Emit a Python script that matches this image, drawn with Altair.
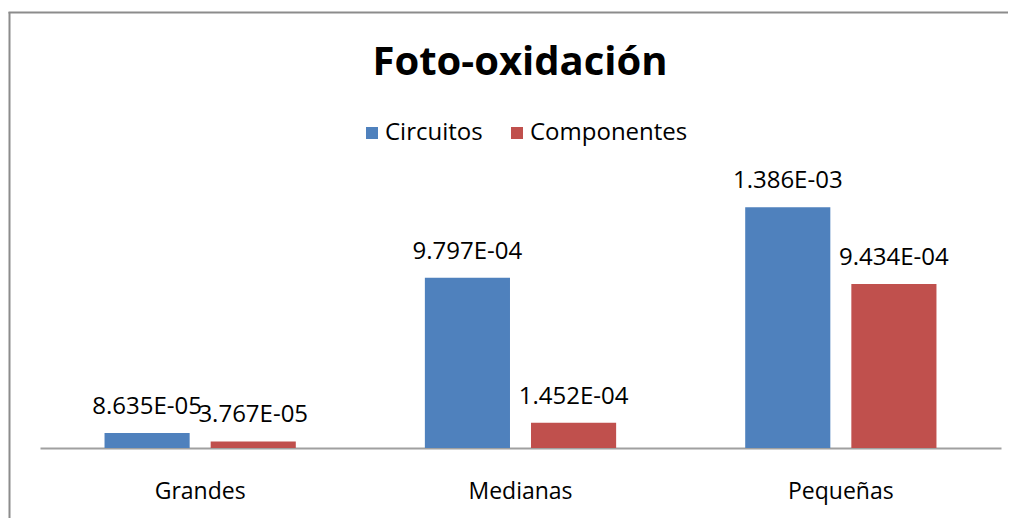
import altair as alt
import pandas as pd

categories = ["Grandes", "Medianas", "Pequeñas"]
series = ["Circuitos", "Componentes"]
circuitos = [8.635e-05, 9.797e-04, 1.386e-03]
componentes = [3.767e-05, 1.452e-04, 9.434e-04]
colors = ["#4F81BD", "#C0504D"]

rows = []
for i, c in enumerate(categories):
    for s, vals in zip(series, [circuitos, componentes]):
        rows.append({"cat": c, "serie": s, "v": vals[i], "lab": f"{vals[i]:.3E}"})
df = pd.DataFrame(rows)

FONT = "Open Sans"
FS = 24
W, H = 961, 278

x = alt.X("cat:N", sort=categories, title=None,
          scale=alt.Scale(paddingInner=0, paddingOuter=0),
          axis=alt.Axis(labelAngle=0, ticks=False, labelFontSize=FS - 1, labelFont=FONT,
                        labelColor="#000000", labelPadding=32, domainColor="#A0A0A0",
                        domainWidth=2, grid=False))
xo = alt.XOffset("serie:N", sort=series,
                 scale=alt.Scale(paddingInner=0.198, paddingOuter=0.608))
y = alt.Y("v:Q", scale=alt.Scale(domain=[0, 0.0016], nice=False), axis=None)
color = alt.Color("serie:N", sort=series, title=None,
                  scale=alt.Scale(domain=series, range=colors),
                  legend=alt.Legend(orient="none", legendX=320, legendY=-49,
                                    direction="horizontal", symbolType="square",
                                    symbolSize=144, symbolStrokeWidth=0,
                                    labelFontSize=FS, labelFont=FONT, labelColor="#000000",
                                    labelOffset=1, columnPadding=22, padding=0))

base = alt.Chart(df)
bars = base.mark_bar().encode(x=x, xOffset=xo, y=y, color=color)
labels = base.mark_text(baseline="alphabetic", dy=-19, fontSize=FS, font=FONT,
                        color="#000000").encode(x=x, xOffset=xo, y=y, text="lab:N")

title_df = pd.DataFrame({"t": ["Foto-oxidación"]})
title = alt.Chart(title_df).mark_text(fontSize=40, font=FONT, fontWeight="bold",
                                      baseline="alphabetic", color="#000000").encode(
    x=alt.value(480), y=alt.value(-95), text="t:N")

border_left = alt.Chart(title_df).mark_rule(color="#8C8C8C", strokeWidth=2).encode(
    x=alt.value(-30.5), y=alt.value(-158), y2=alt.value(400))
border_top = alt.Chart(title_df).mark_rule(color="#8C8C8C", strokeWidth=2).encode(
    x=alt.value(-31.5), x2=alt.value(1100), y=alt.value(-157.5))

chart = alt.layer(border_left, border_top, title, bars, labels).properties(
    width=W, height=H,
    autosize=alt.AutoSizeParams(type="none"),
    padding={"left": 32, "top": 162, "right": 7, "bottom": 70},
).configure(background="#FFFFFF").configure_view(strokeWidth=0, stroke="transparent")

chart.save("out.html", embed_options={"renderer": "svg", "actions": False})
